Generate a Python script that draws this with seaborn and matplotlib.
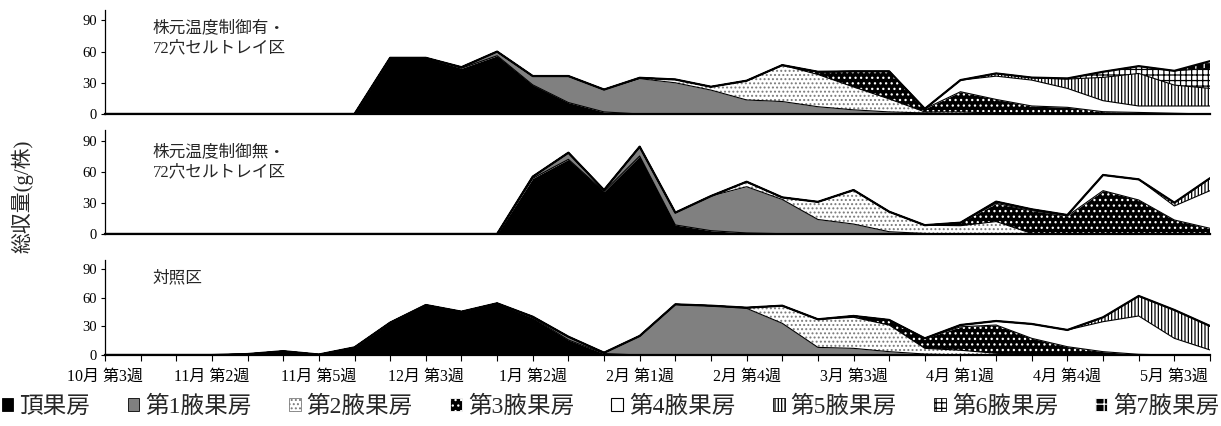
import numpy as np
import matplotlib
matplotlib.use("Agg")
import matplotlib.pyplot as plt
from matplotlib.patches import Patch
import seaborn as sns

# ---- week axis -------------------------------------------------------------
weeks = [
    "10月 第3週", "10月 第4週", "11月 第1週", "11月 第2週", "11月 第3週",
    "11月 第4週", "11月 第5週", "12月 第1週", "12月 第2週", "12月 第3週",
    "12月 第4週", "1月 第1週", "1月 第2週", "1月 第3週", "1月 第4週",
    "2月 第1週", "2月 第2週", "2月 第3週", "2月 第4週", "3月 第1週",
    "3月 第2週", "3月 第3週", "3月 第4週", "3月 第5週", "4月 第1週",
    "4月 第2週", "4月 第3週", "4月 第4週", "5月 第1週", "5月 第2週",
    "5月 第3週", "5月 第4週",
]

series_names = ["頂果房", "第1腋果房", "第2腋果房", "第3腋果房",
                "第4腋果房", "第5腋果房", "第6腋果房", "第7腋果房"]

# ---- 株元温度制御有・72穴セルトレイ区 (g/株) -----------------------------------
heated_apex = [0, 0, 0, 0, 0, 0, 0, 0, 54, 54, 44, 56, 28, 11, 2, 0,
               0, 0, 0, 0, 0, 0, 0, 0, 0, 0, 0, 0, 0, 0, 0, 0]
heated_ax1 = [0, 0, 0, 0, 0, 0, 0, 0, 0, 0, 1, 4, 8.5, 25.5, 21.5, 34,
              30, 23, 13.5, 12, 7, 4, 2, 1, 0, 0, 0, 0, 0, 0, 0, 0]
heated_ax2 = [0, 0, 0, 0, 0, 0, 0, 0, 0, 0, 0, 0, 0, 0, 0, 0.8,
              3.2, 3.2, 18.5, 35, 31, 22, 12.5, 1, 2, 1, 0.5, 0, 0, 0, 0, 0]
heated_ax3 = [0, 0, 0, 0, 0, 0, 0, 0, 0, 0, 0, 0, 0, 0, 0, 0,
              0, 0, 0, 0, 2.6, 15, 26.5, 3, 19.4, 13, 7.2, 6.4, 2.2, 1.5, 0.7, 0]
heated_ax4 = [0, 0, 0, 0, 0, 0, 0, 0, 0, 0, 0, 0, 0, 0, 0, 0,
              0, 0, 0, 0, 0, 0, 0, 0, 11.2, 22.4, 24.9, 18.2, 10.6, 6.2, 7, 7.7]
heated_ax5 = [0, 0, 0, 0, 0, 0, 0, 0, 0, 0, 0, 0, 0, 0, 0, 0,
              0, 0, 0, 0, 0, 0, 0, 0, 0, 2.6, 2.4, 9, 22.4, 31.3, 20.1, 16.9]
heated_ax6 = [0, 0, 0, 0, 0, 0, 0, 0, 0, 0, 0, 0, 0, 0, 0, 0,
              0, 0, 0, 0, 0, 0, 0, 0, 0, 0, 0, 0.6, 5.4, 7, 13.7, 19.4]
heated_ax7 = [0, 0, 0, 0, 0, 0, 0, 0, 0, 0, 0, 0, 0, 0, 0, 0,
              0, 0, 0, 0, 0, 0, 0, 0, 0, 0, 0, 0, 0, 0, 0, 6.8]

# ---- 株元温度制御無・72穴セルトレイ区 (g/株) -----------------------------------
unheated_apex = [0, 0, 0, 0, 0, 0, 0, 0, 0, 0, 0, 0, 53.7, 72, 41, 75.2,
                 8.7, 3.2, 1, 0.3, 0, 0, 0, 0, 0, 0, 0, 0, 0, 0, 0, 0]
unheated_ax1 = [0, 0, 0, 0, 0, 0, 0, 0, 0, 0, 0, 0, 1.6, 6.4, 1.4, 9,
                11.9, 33.4, 44.6, 33, 14, 9.6, 2.2, 0.5, 0, 0, 0, 0, 0, 0, 0, 0]
unheated_ax2 = [0, 0, 0, 0, 0, 0, 0, 0, 0, 0, 0, 0, 0, 0, 0, 0,
                0, 0, 4.8, 2, 17, 32.8, 19.3, 8, 8, 12, 0.5, 0, 0, 0, 0, 0]
unheated_ax3 = [0, 0, 0, 0, 0, 0, 0, 0, 0, 0, 0, 0, 0, 0, 0, 0,
                0, 0, 0, 0, 0, 0, 0, 0, 2.9, 17.6, 22, 17.4, 41.8, 32.8, 13.5, 5.5]
unheated_ax4 = [0, 0, 0, 0, 0, 0, 0, 0, 0, 0, 0, 0, 0, 0, 0, 0,
                0, 0, 0, 0, 0, 0, 0, 0, 0, 1.6, 1.3, 0.9, 15.1, 19.9, 13.5, 36.3]
unheated_ax5 = [0, 0, 0, 0, 0, 0, 0, 0, 0, 0, 0, 0, 0, 0, 0, 0,
                0, 0, 0, 0, 0, 0, 0, 0, 0, 0, 0, 0, 0, 0, 3.2, 12]
unheated_ax6 = [0] * 32
unheated_ax7 = [0] * 32

# ---- 対照区 (g/株) -------------------------------------------------------------
control_apex = [0, 0, 0, 0, 1, 4, 0.5, 8, 34, 52.5, 45.5, 54.3, 39, 15.8, 1.5, 0,
                0, 0, 0, 0, 0, 0, 0, 0, 0, 0, 0, 0, 0, 0, 0, 0]
control_ax1 = [0, 0, 0, 0, 0, 0, 0, 0, 0, 0, 0, 0, 1.2, 3.4, 0.9, 20,
               53.2, 51.8, 49, 33.3, 8, 7, 3.5, 1, 0, 0, 0, 0, 0, 0, 0, 0]
control_ax2 = [0, 0, 0, 0, 0, 0, 0, 0, 0, 0, 0, 0, 0, 0, 0, 0,
               0, 0, 0.7, 18.5, 29.5, 32.6, 28, 6, 5, 1.8, 0.5, 0, 0, 0, 0, 0]
control_ax3 = [0, 0, 0, 0, 0, 0, 0, 0, 0, 0, 0, 0, 0, 0, 0, 0,
               0, 0, 0, 0, 0, 1.4, 5.3, 10.5, 24.6, 29.7, 17, 8.7, 3.5, 0.7, 0, 0]
control_ax4 = [0, 0, 0, 0, 0, 0, 0, 0, 0, 0, 0, 0, 0, 0, 0, 0,
               0, 0, 0, 0, 0, 0, 0, 0, 1.9, 4.2, 15.1, 17.6, 31.5, 40.3, 17.5, 5.3]
control_ax5 = [0, 0, 0, 0, 0, 0, 0, 0, 0, 0, 0, 0, 0, 0, 0, 0,
               0, 0, 0, 0, 0, 0, 0, 0, 0, 0, 0, 0, 4.6, 21, 29.8, 25.2]
control_ax6 = [0] * 32
control_ax7 = [0] * 32

panel_titles = ["株元温度制御有・\n72穴セルトレイ区",
                "株元温度制御無・\n72穴セルトレイ区",
                "対照区"]
yticks = [0, 30, 60, 90]

# ---- style --------------------------------------------------------------------
sns.set_theme(style="ticks")
plt.rcParams["font.family"] = ["Liberation Serif", "Noto Sans CJK JP"]
plt.rcParams["hatch.linewidth"] = 0.9
plt.rcParams["axes.unicode_minus"] = False

# facecolor, hatch colour, hatch pattern for each fruit truss
fills = [
    ("#000000", "#000000", None),
    ("#808080", "#808080", None),
    ("#ffffff", "#7a7a7a", "...."),
    ("#000000", "#ffffff", "..."),
    ("#ffffff", "#ffffff", None),
    ("#ffffff", "#000000", "|||||"),
    ("#ffffff", "#000000", "+++"),
    ("#000000", "#ffffff", "++"),
]

W, H = 1221, 426
fig = plt.figure(figsize=(W / 100, H / 100), dpi=100)

# axes boxes in pixels: (top of y=100, y=0 line)
boxes = [(10.0, 114.0), (130.3, 234.0), (259.8, 355.0)]
x_left, x_right = 105, 1210

panels = [
    [heated_apex, heated_ax1, heated_ax2, heated_ax3,
     heated_ax4, heated_ax5, heated_ax6, heated_ax7],
    [unheated_apex, unheated_ax1, unheated_ax2, unheated_ax3,
     unheated_ax4, unheated_ax5, unheated_ax6, unheated_ax7],
    [control_apex, control_ax1, control_ax2, control_ax3,
     control_ax4, control_ax5, control_ax6, control_ax7],
]
title_y = [0.90, 0.865, 0.89]

x = np.arange(len(weeks))
axes = []
for p, (series, (ytop, ybase)) in enumerate(zip(panels, boxes)):
    ax = fig.add_axes([x_left / W, 1 - ybase / H,
                       (x_right - x_left) / W, (ybase - ytop) / H])
    axes.append(ax)
    stack = np.cumsum(np.array(series, dtype=float), axis=0)
    lower = np.zeros(len(weeks))
    for vals_top, (fc, hc, hatch) in zip(stack, fills):
        ax.fill_between(x, lower, vals_top, facecolor=fc, edgecolor=hc,
                        hatch=hatch, linewidth=0, zorder=2)
        lower = vals_top
    # borders between the stacked areas
    for vals_top in stack[:-1]:
        sns.lineplot(x=x, y=vals_top, ax=ax, color="black", linewidth=0.8,
                     zorder=3, legend=False)
    sns.lineplot(x=x, y=stack[-1], ax=ax, color="black", linewidth=1.6,
                 zorder=4, legend=False)

    ax.set_xlim(0, len(weeks) - 1)
    ax.set_ylim(0, 100)
    ax.set_yticks(yticks)
    ax.set_yticklabels([str(v) for v in yticks])
    ax.tick_params(axis="y", direction="out", length=3, width=0.8,
                   labelsize=10.5, pad=3, colors="black")
    ax.set_ylabel("")
    ax.set_xlabel("")
    for side in ("top", "right"):
        ax.spines[side].set_visible(False)
    ax.spines["left"].set_linewidth(0.9)
    ax.spines["left"].set_color("black")
    ax.spines["bottom"].set_linewidth(1.6)
    ax.spines["bottom"].set_color("black")
    ax.text(0.043, title_y[p], panel_titles[p], transform=ax.transAxes,
            ha="left", va="top", fontsize=12, linespacing=1.35)
    if p < 2:
        ax.set_xticks([])
    else:
        ax.set_xticks(x)
        ax.set_xticklabels([w if i % 3 == 0 else "" for i, w in enumerate(weeks)])
        ax.tick_params(axis="x", direction="out", length=4, width=0.8,
                       labelsize=11.5, pad=6, colors="black")

fig.text(22 / W, 1 - 196 / H, "総収量(g/株)", rotation=90,
         ha="center", va="center", fontsize=15)

handles = []
for (fc, hc, hatch) in fills:
    handles.append(Patch(facecolor=fc, edgecolor=hc if hatch else "black",
                         hatch=hatch, linewidth=0.6))
handles[4] = Patch(facecolor="white", edgecolor="black", linewidth=0.8)
fig.legend(handles, series_names, loc="center", ncol=8,
           bbox_to_anchor=(0.5, 1 - 407 / H), frameon=False, fontsize=17,
           handlelength=0.5, handleheight=0.5, handletextpad=0.25,
           columnspacing=1.58, borderaxespad=0)

fig.savefig("out.png", dpi=100)
